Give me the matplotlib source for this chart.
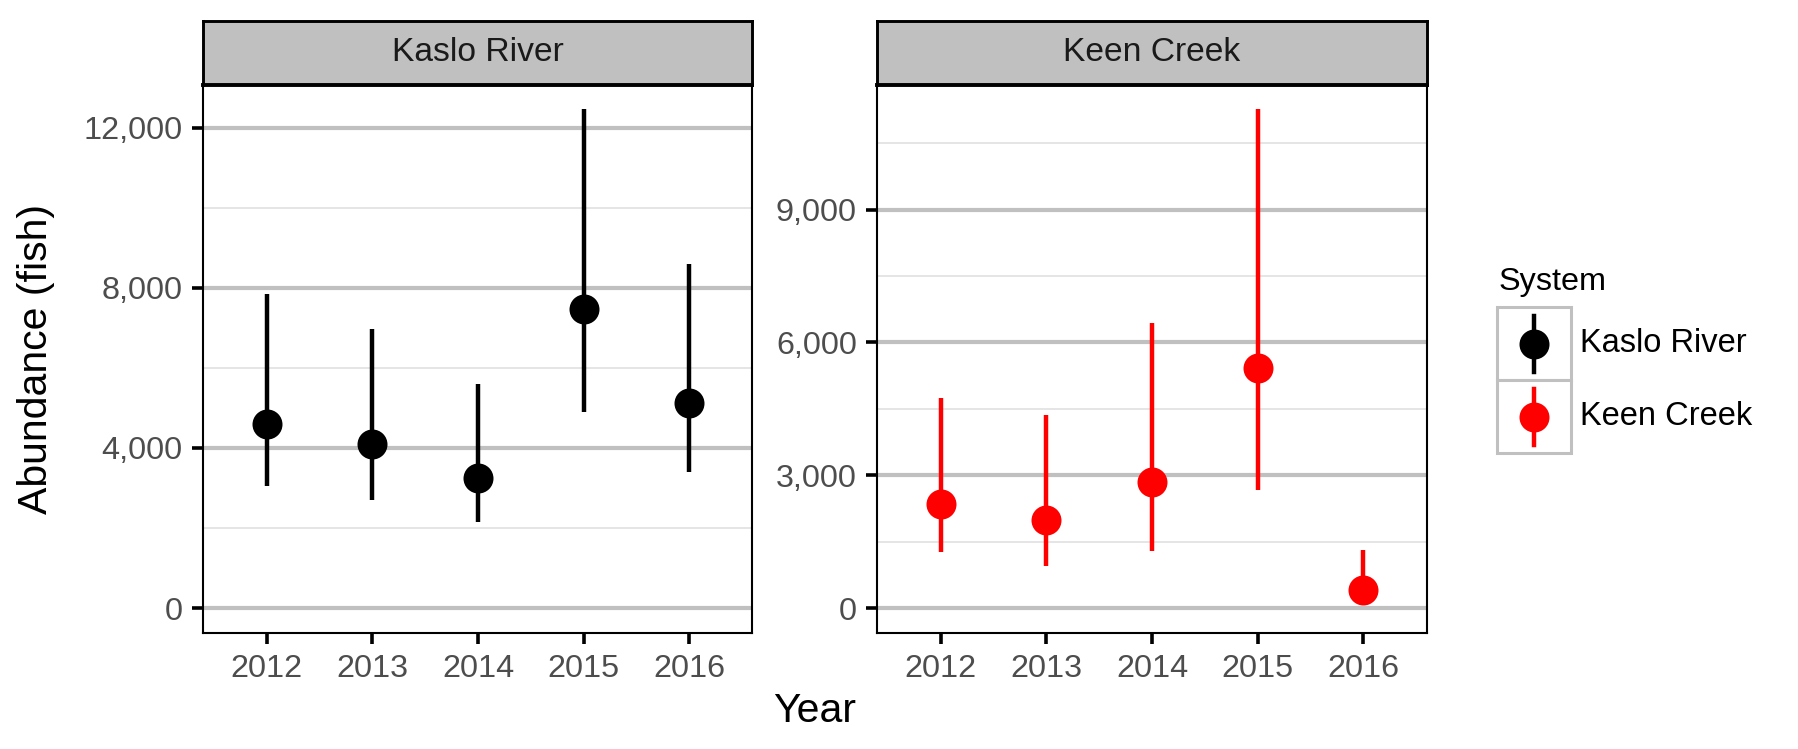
import matplotlib
matplotlib.use("Agg")
import matplotlib.pyplot as plt
from matplotlib.ticker import FuncFormatter, FixedLocator
from matplotlib.patches import Rectangle
from matplotlib.lines import Line2D

plt.rcParams['font.family'] = ['Liberation Sans', 'DejaVu Sans']

years = ["2012", "2013", "2014", "2015", "2016"]
systems = ["Kaslo River", "Keen Creek"]
colors = ["#000000", "#FF0000"]

kaslo_est = [4600, 4110, 3250, 7480, 5130]
kaslo_lo = [3050, 2700, 2150, 4890, 3400]
kaslo_hi = [7860, 6970, 5600, 12460, 8610]

keen_est = [2360, 1980, 2850, 5410, 410]
keen_lo = [1260, 960, 1290, 2660, 150]
keen_hi = [4740, 4350, 6430, 11260, 1310]

kaslo_major = [0, 4000, 8000, 12000]
kaslo_minor = [2000, 6000, 10000]
keen_major = [0, 3000, 6000, 9000]
keen_minor = [1500, 4500, 7500, 10500]

W, H = 1799, 749
fig = plt.figure(figsize=(W / 100, H / 100), dpi=100)

def fx(px):
    return px / W

def fy(py):
    return 1 - py / H

panel_top, panel_bot = 84.5, 633.0
strip_top = 20.5
panels_x = [(203.5, 752.5), (877.5, 1426.5)]

data = [
    (kaslo_est, kaslo_lo, kaslo_hi, kaslo_major, kaslo_minor),
    (keen_est, keen_lo, keen_hi, keen_major, keen_minor),
]

fmt = FuncFormatter(lambda v, p: f"{int(v):,}")

for i, (x0, x1) in enumerate(panels_x):
    est, lo, hi, major, minor = data[i]
    ax = fig.add_axes([fx(x0), fy(panel_bot), fx(x1 - x0), (panel_bot - panel_top) / H])
    xs = list(range(1, len(years) + 1))
    ymax = max(hi)
    ax.set_ylim(-0.05 * ymax, 1.05 * ymax)
    ax.set_xlim(0.4, len(years) + 0.6)
    ax.yaxis.set_major_locator(FixedLocator(major))
    ax.yaxis.set_minor_locator(FixedLocator(minor))
    ax.yaxis.set_major_formatter(fmt)
    ax.set_xticks(xs)
    ax.set_xticklabels(years)
    ax.grid(axis='y', which='major', color='#C0C0C0', linewidth=3.0, zorder=0)
    ax.grid(axis='y', which='minor', color='#E3E3E3', linewidth=1.3, zorder=0)
    ax.grid(axis='x', which='both', visible=False)
    ax.set_axisbelow(True)
    ax.vlines(xs, lo, hi, color=colors[i], linewidth=3.2, zorder=3)
    ax.plot(xs, est, linestyle='none', marker='o', markersize=21.6,
            color=colors[i], markeredgewidth=0, zorder=4)
    for s in ax.spines.values():
        s.set_color('black')
        s.set_linewidth(1.5)
    ax.tick_params(axis='both', which='major', length=7.9, width=2.6, color='black',
                   labelsize=23.3, labelcolor='#4D4D4D', pad=7)
    ax.tick_params(axis='y', which='minor', length=0)
    # strip
    sax = fig.add_axes([fx(x0), fy(panel_top), fx(x1 - x0), (panel_top - strip_top) / H])
    sax.set_facecolor('#C0C0C0')
    sax.set_xticks([])
    sax.set_yticks([])
    for s in sax.spines.values():
        s.set_color('black')
        s.set_linewidth(2.1)
    sax.spines['bottom'].set_linewidth(2.8)
    sax.text(0.5, 0.5, systems[i], ha='center', va='center', fontsize=24.2,
             color='#1A1A1A', transform=sax.transAxes)

fig.text(fx(36), fy(359), "Abundance (fish)", rotation=90, ha='center', va='center',
         fontsize=29.5, color='black')
fig.text(fx(815), fy(711), "Year", ha='center', va='center', fontsize=29.5, color='black')

# legend (manual, ggplot style)
lax = fig.add_axes([0, 0, 1, 1], facecolor='none')
lax.set_xlim(0, W)
lax.set_ylim(H, 0)
lax.axis('off')
lax.text(1499, 282, "System", ha='left', va='center', fontsize=23.3, color='black')
key_left, key_w, key_h, key_top = 1497.5, 74, 73, 307
for j, name in enumerate(systems):
    ktop = key_top + j * key_h
    lax.add_patch(Rectangle((key_left, ktop), key_w, key_h, facecolor='white',
                            edgecolor='#C0C0C0', linewidth=2.2))
    cx, cy = key_left + key_w / 2, ktop + key_h / 2
    lax.add_line(Line2D([cx, cx], [cy - 28, cy + 28], color=colors[j], linewidth=3.2))
    lax.plot([cx], [cy], marker='o', markersize=21.6, color=colors[j], markeredgewidth=0)
    lax.text(1580, cy, name, ha='left', va='center', fontsize=23.5, color='black')

fig.savefig("out.png", dpi=100)
